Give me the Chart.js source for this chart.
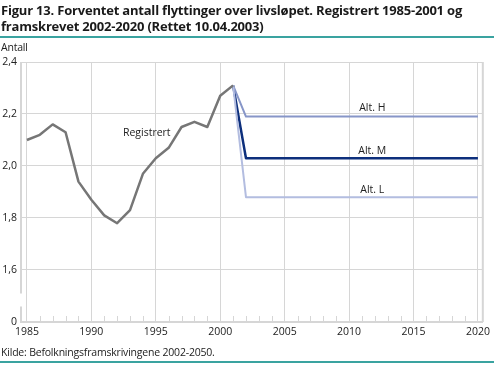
<!DOCTYPE html>
<html>
<head>
<meta charset="utf-8">
<script src="https://cdn.jsdelivr.net/npm/chart.js@4"></script>
<style>
  body { margin: 0; background: #fff; }
  #wrap { position: relative; width: 494px; height: 367px; overflow: hidden; }
  #myChart { position: absolute; left: 0; top: 0; }
  .title { position: absolute; left: 1px; top: 2px; font: bold 13px "Open Sans", sans-serif; letter-spacing: -0.2px; line-height: 16px; color: #1a1a1a; white-space: nowrap; }
  .rule { position: absolute; left: 0; width: 494px; height: 2px; background: #3aa3a0; }
  .unit { position: absolute; left: 1px; top: 40px; font: 10.5px "Open Sans", sans-serif; letter-spacing: -0.2px; color: #222; }
  .source { position: absolute; left: 1px; top: 345px; font: 10.5px "Open Sans", sans-serif; letter-spacing: -0.2px; color: #222; }
</style>
</head>
<body>
<div id="wrap">
  <canvas id="myChart" width="494" height="367"></canvas>
  <div class="title">Figur 13. Forventet antall flyttinger over livsløpet. Registrert 1985-2001 og<br>framskrevet 2002-2020 (Rettet 10.04.2003)</div>
  <div class="rule" style="top:36px"></div>
  <div class="unit">Antall</div>
  <div class="source">Kilde: Befolkningsframskrivingene 2002-2050.</div>
  <div class="rule" style="top:361px"></div>
</div>
<script>
const years = [1985,1986,1987,1988,1989,1990,1991,1992,1993,1994,1995,1996,1997,1998,1999,2000,2001]
const registrert = [2.10,2.12,2.16,2.13,1.94,1.87,1.81,1.78,1.83,1.97,2.03,2.07,2.15,2.17,2.15,2.27,2.31]

const projYears = [2001,2002,2020]
const altH = [2.31,2.19,2.19]
const altM = [2.31,2.03,2.03]
const altL = [2.31,1.88,1.88]

const yTicks = [1.4,1.6,1.8,2.0,2.2,2.4]
const xTicks = [1985,1986,1987,1988,1989,1990,1991,1992,1993,1994,1995,1996,1997,1998,1999,2000,
  2001,2002,2003,2004,2005,2006,2007,2008,2009,2010,2011,2012,2013,2014,2015,2016,2017,2018,2019,2020]

const FONT = '"Open Sans", sans-serif'
const GRID = '#d6d6d6'

const toXY = (xs, ys) => xs.map((x, i) => ({x: x, y: ys[i]}))

// labels written next to the lines
const lineLabels = [
  {text: 'Registrert', x: 1994.3, y: 2.125},
  {text: 'Alt. H', x: 2011.8, y: 2.222},
  {text: 'Alt. M', x: 2011.8, y: 2.057},
  {text: 'Alt. L', x: 2011.8, y: 1.907}
]

const extras = {
  id: 'extras',
  beforeDatasetsDraw(chart) {
    const c = chart.ctx, a = chart.chartArea
    const xs = chart.scales.x, ys = chart.scales.y
    c.save()
    c.strokeStyle = GRID
    c.lineWidth = 1
    // small year ticks on the x axis
    xTicks.forEach(v => {
      if (v % 5 === 0) return
      const px = Math.round(xs.getPixelForValue(v)) + 0.5
      c.beginPath(); c.moveTo(px, a.bottom); c.lineTo(px, a.bottom - 6); c.stroke()
    })
    // y axis with a break between 0 and 1,6
    c.lineWidth = 2
    const yb = ys.getPixelForValue(1.51), yb2 = ys.getPixelForValue(1.46)
    c.beginPath(); c.moveTo(a.left, a.top); c.lineTo(a.left, yb); c.stroke()
    c.beginPath(); c.moveTo(a.left, yb2); c.lineTo(a.left, a.bottom); c.stroke()
    c.beginPath(); c.moveTo(a.right, a.top); c.lineTo(a.right, a.bottom); c.stroke()
    c.restore()
  },
  afterDatasetsDraw(chart) {
    const c = chart.ctx
    const xs = chart.scales.x, ys = chart.scales.y
    c.save()
    c.font = '10.5px ' + FONT
    c.fillStyle = '#222'
    c.textAlign = 'center'
    c.textBaseline = 'middle'
    lineLabels.forEach(l => c.fillText(l.text, xs.getPixelForValue(l.x), ys.getPixelForValue(l.y)))
    c.restore()
  }
}

const ctx = document.getElementById('myChart')

const chart = new Chart(ctx, {
  type: 'line',
  data: {
    datasets: [
      {label: 'Registrert', data: toXY(years, registrert), borderColor: '#767676', borderWidth: 2.5},
      {label: 'Alt. L', data: toXY(projYears, altL), borderColor: '#b3bde0', borderWidth: 2},
      {label: 'Alt. H', data: toXY(projYears, altH), borderColor: '#8796c8', borderWidth: 2},
      {label: 'Alt. M', data: toXY(projYears, altM), borderColor: '#0d2f7c', borderWidth: 2.5}
    ]
  },
  plugins: [extras],
  options: {
    responsive: false,
    animation: false,
    elements: {point: {radius: 0}, line: {tension: 0, borderJoinStyle: 'round'}},
    layout: {padding: {top: 62, right: 7, left: 0, bottom: 0}},
    plugins: {legend: {display: false}, tooltip: {enabled: false}},
    scales: {
      x: {
        type: 'linear',
        min: 1984.54,
        max: 2020.38,
        afterBuildTicks: s => { s.ticks = xTicks.map(v => ({value: v})) },
        afterFit: s => { s.height = 45 },
        grid: {color: c => c.tick && c.tick.value % 5 === 0 ? GRID : 'rgba(0,0,0,0)', drawTicks: false},
        border: {display: true, color: GRID, width: 2},
        ticks: {
          autoSkip: false, maxRotation: 0, padding: 4, color: '#222',
          font: {family: FONT, size: 10.5},
          callback: v => v % 5 === 0 ? String(v) : ''
        }
      },
      y: {
        min: 1.4,
        max: 2.4,
        afterBuildTicks: s => { s.ticks = yTicks.map(v => ({value: v})) },
        afterFit: s => { s.width = 21 },
        grid: {color: c => c.tick && c.tick.value < 1.5 ? 'rgba(0,0,0,0)' : GRID, drawTicks: false},
        border: {display: false},
        ticks: {
          padding: 4, color: '#222',
          font: {family: FONT, size: 10.5},
          callback: v => v < 1.5 ? '0' : v.toFixed(1).replace('.', ',')
        }
      }
    }
  }
})
</script>
</body>
</html>
